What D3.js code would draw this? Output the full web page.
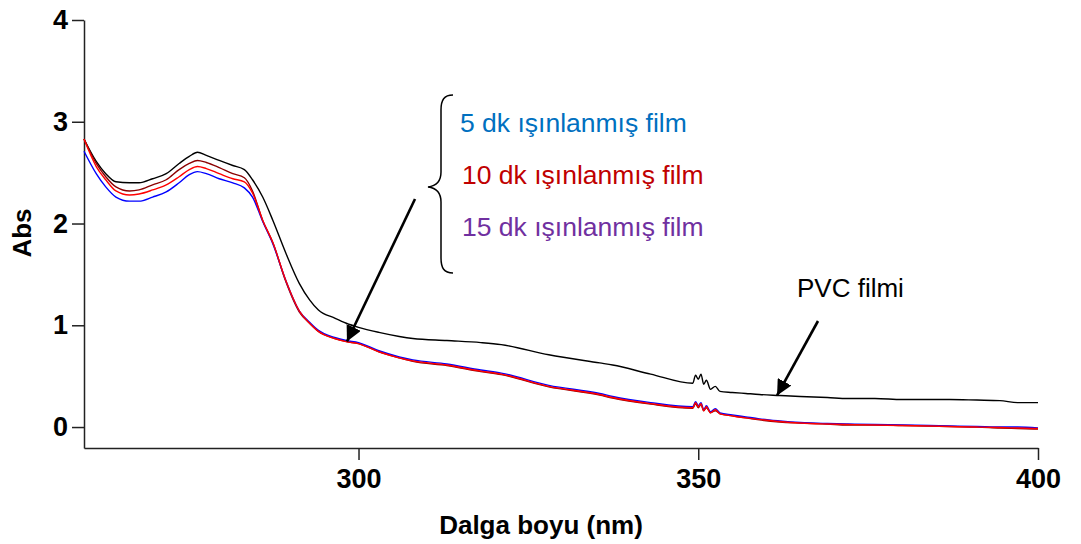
<!DOCTYPE html>
<html>
<head>
<meta charset="utf-8">
<script src="https://cdn.jsdelivr.net/npm/d3@7"></script>
<style>
  body { margin: 0; background: #fff; }
  svg { display: block; font-family: "Liberation Sans", Arial, sans-serif; }
</style>
</head>
<body>
<svg id="chart" width="1081" height="544"></svg>
<script>
// wavelength grid (nm) shared by all spectra
const wavelengths = [259.6, 261.4, 262.8, 264.3, 266.3, 267.7, 269.7, 271.7, 273.6, 275.1, 276.3, 277.6,
  279.5, 281.5, 283.2, 284.4, 285.9, 287.4, 289.3, 291.3, 292.8, 294.1, 296.5, 298.2, 300, 303, 306, 308, 313,
  318, 321, 328, 335.5, 337.4, 343, 349.2, 349.6, 350.0, 350.4, 350.8, 351.2, 351.8, 352.5, 353.2, 355,
  357, 359, 362, 365, 369, 372, 376, 380, 384, 387, 391, 394.4, 397, 400];

const pvc = [2.83, 2.61, 2.49, 2.41, 2.40, 2.40, 2.44, 2.49, 2.59, 2.66, 2.70, 2.67,
  2.62, 2.57, 2.53, 2.43, 2.26, 2.03, 1.71, 1.41, 1.25, 1.15, 1.07, 1.02, 0.98, 0.93, 0.89, 0.87, 0.85,
  0.83, 0.81, 0.71, 0.63, 0.61, 0.52, 0.43, 0.51, 0.47, 0.52, 0.42, 0.46, 0.37, 0.40, 0.35, 0.34,
  0.33, 0.32, 0.31, 0.30, 0.29, 0.28, 0.28, 0.27, 0.27, 0.27, 0.265, 0.26, 0.24, 0.24];

const film5 = [2.71, 2.49, 2.36, 2.26, 2.22, 2.22, 2.26, 2.31, 2.40, 2.48, 2.51, 2.49,
  2.44, 2.40, 2.35, 2.26, 2.02, 1.80, 1.44, 1.14, 1.03, 0.95, 0.88, 0.85, 0.83, 0.75, 0.69, 0.66, 0.62,
  0.56, 0.53, 0.41, 0.33, 0.30, 0.24, 0.20, 0.25, 0.21, 0.24, 0.17, 0.21, 0.15, 0.18, 0.14, 0.12,
  0.10, 0.08, 0.06, 0.045, 0.035, 0.03, 0.025, 0.02, 0.015, 0.01, 0.005, 0.0, 0.0, -0.01];

const film10 = [2.83, 2.56, 2.43, 2.32, 2.28, 2.29, 2.33, 2.38, 2.46, 2.53, 2.56, 2.54,
  2.49, 2.44, 2.41, 2.30, 2.03, 1.81, 1.44, 1.14, 1.02, 0.94, 0.87, 0.84, 0.82, 0.74, 0.68, 0.65, 0.61,
  0.55, 0.52, 0.40, 0.32, 0.29, 0.23, 0.19, 0.24, 0.20, 0.23, 0.16, 0.20, 0.14, 0.17, 0.13, 0.11,
  0.09, 0.075, 0.055, 0.04, 0.03, 0.025, 0.02, 0.015, 0.01, 0.005, 0.0, -0.005, -0.01, -0.015];

const film15 = [2.83, 2.59, 2.46, 2.36, 2.32, 2.33, 2.38, 2.43, 2.53, 2.59, 2.62, 2.60,
  2.55, 2.49, 2.45, 2.32, 2.03, 1.81, 1.43, 1.13, 1.02, 0.94, 0.87, 0.84, 0.82, 0.74, 0.68, 0.645, 0.605,
  0.545, 0.515, 0.395, 0.315, 0.285, 0.225, 0.185, 0.23, 0.19, 0.22, 0.16, 0.19, 0.14, 0.16, 0.13, 0.11,
  0.09, 0.07, 0.05, 0.04, 0.03, 0.02, 0.02, 0.015, 0.01, 0.005, 0.0, -0.01, -0.015, -0.02];

const xTicks = [300, 350, 400];
const yTicks = [0, 1, 2, 3, 4];
const legendLabels = ["5 dk ışınlanmış film", "10 dk ışınlanmış film", "15 dk ışınlanmış film"];
const legendColors = ["#0070C0", "#C00000", "#7030A0"];

const svg = d3.select('#chart');

const x = d3.scaleLinear().domain([259.6, 400]).range([84, 1038]);
const y = d3.scaleLinear().domain([-0.206, 4]).range([448, 20]);

// axes
const xAxis = svg.append('g')
    .attr('transform', 'translate(0,448)')
    .call(d3.axisBottom(x).tickValues(xTicks).tickFormat(d3.format('d'))
        .tickSize(12).tickPadding(9).tickSizeOuter(0));
const yAxis = svg.append('g')
    .attr('transform', 'translate(84,0)')
    .call(d3.axisLeft(y).tickValues(yTicks).tickFormat(d3.format('d'))
        .tickSize(12).tickPadding(4).tickSizeOuter(0));

[xAxis, yAxis].forEach(a => {
    a.select('.domain').attr('stroke', '#222').attr('stroke-width', 1.5);
    a.selectAll('.tick line').attr('stroke', '#222').attr('stroke-width', 1.5);
    a.selectAll('.tick text')
        .attr('fill', '#000')
        .style('font-size', '27px')
        .style('font-weight', 'bold')
        .style('font-family', '"Liberation Sans", Arial, sans-serif');
});

// axis titles
svg.append('text')
    .attr('x', 541).attr('y', 534)
    .attr('text-anchor', 'middle')
    .style('font-size', '26px').style('font-weight', 'bold')
    .text('Dalga boyu (nm)');

svg.append('text')
    .attr('transform', 'translate(31,233) rotate(-90)')
    .attr('text-anchor', 'middle')
    .style('font-size', '26px').style('font-weight', 'bold')
    .text('Abs');

// spectra
const line = d3.line()
    .x((d, i) => x(wavelengths[i]))
    .y(d => y(d))
    .curve(d3.curveMonotoneX);

const series = [
    { values: pvc, color: '#000000' },
    { values: film15, color: '#8B0000' },
    { values: film5, color: '#0000FF' },
    { values: film10, color: '#FF0000' },
];

svg.selectAll('path.spectrum')
    .data(series)
    .enter()
    .append('path')
    .attr('class', 'spectrum')
    .attr('d', s => line(s.values))
    .attr('fill', 'none')
    .attr('stroke', s => s.color)
    .attr('stroke-width', 1.4);

// arrow marker
svg.append('defs').append('marker')
    .attr('id', 'head')
    .attr('viewBox', '0 0 10 10')
    .attr('refX', 10).attr('refY', 5)
    .attr('markerWidth', 6).attr('markerHeight', 6)
    .attr('markerUnits', 'strokeWidth')
    .attr('orient', 'auto')
    .append('path')
    .attr('d', 'M0,0 L10,5 L0,10 Z')
    .attr('fill', '#000');

// arrows (end points placed on the curves)
svg.append('line')
    .attr('x1', 415).attr('y1', 199)
    .attr('x2', x(298.3)).attr('y2', y(0.84))
    .attr('stroke', '#000').attr('stroke-width', 2.6)
    .attr('marker-end', 'url(#head)');

svg.append('line')
    .attr('x1', 818).attr('y1', 321)
    .attr('x2', x(361.6)).attr('y2', y(0.31))
    .attr('stroke', '#000').attr('stroke-width', 2.6)
    .attr('marker-end', 'url(#head)');

// brace
svg.append('path')
    .attr('d', 'M453,95 C444,95 441,100 441,110 L441,172 C441,182 436,186 428,187 C436,188 441,192 441,202 L441,258 C441,268 444,273 453,273')
    .attr('fill', 'none')
    .attr('stroke', '#000')
    .attr('stroke-width', 1.5);

// legend texts
svg.selectAll('text.legend')
    .data(legendLabels)
    .enter()
    .append('text')
    .attr('class', 'legend')
    .attr('x', (d, i) => i === 0 ? 460 : 462)
    .attr('y', (d, i) => 132 + i * 52)
    .attr('fill', (d, i) => legendColors[i])
    .style('font-size', '26.5px')
    .text(d => d);

svg.append('text')
    .attr('x', 797).attr('y', 297)
    .style('font-size', '26px')
    .text('PVC filmi');
</script>
</body>
</html>
